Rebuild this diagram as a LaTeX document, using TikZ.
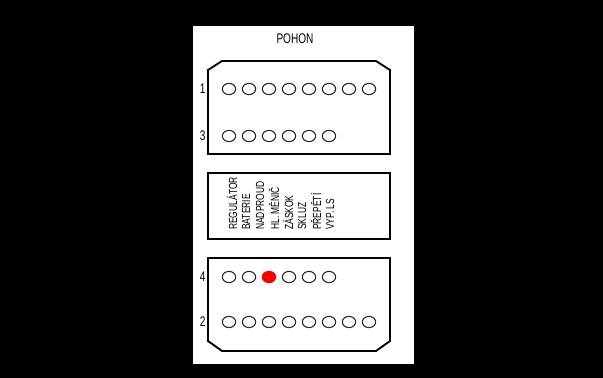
\documentclass[tikz,border=0pt]{standalone}
\usepackage{fontspec}
\setmainfont{Liberation Sans}
\newfontfamily\narrowfont[FakeStretch=0.72]{Liberation Sans}
\usetikzlibrary{shapes.geometric}

\begin{document}
\begin{tikzpicture}[
    x=0.75pt, y=-0.75pt,
    font=\narrowfont\fontsize{10.5}{12}\selectfont,
    led/.style={ellipse, draw=black!85, line width=0.8pt, minimum width=10pt, minimum height=8.4pt, inner sep=0pt},
    ledon/.style={led, fill=red, draw=red},
    frame/.style={draw=black, line width=1.4pt},
    rowlab/.style={anchor=east, inner sep=1pt},
    sig/.style={rotate=90, anchor=west, inner sep=0pt, font=\narrowfont\fontsize{8.8}{10}\selectfont},
  ]
  \def\dx{20}   % led pitch
  \def\xo{229}  % first led

  % --- background and panel ---
  \useasboundingbox (0,0) rectangle (603,378);
  \fill[black] (0,0) rectangle (603,378);
  \fill[white] (193,26) rectangle (414,364);
  \node (title) at (295,39) {POHON};

  % --- upper block: rows 1 and 3 ---
  \draw[frame] (208,70) -- (222,61) -- (376,61) -- (390,70) -- (390,154) -- (208,154) -- cycle;
  \node[rowlab] (lab1) at (207,89) {1};
  \foreach \i in {0,...,7} {
    \node[led] (a\i) at ({\xo+\i*\dx},89) {};
  }
  \node[rowlab] (lab3) at (207,136) {3};
  \foreach \i in {0,...,5} {
    \node[led] (c\i) at ({\xo+\i*\dx},136) {};
  }

  % --- legend ---
  \draw[frame] (208,173) rectangle (390,239);
  \foreach \t [count=\i from 0] in {REGULÁTOR, BATERIE, NADPROUD, HL. MĚNIČ, ZÁSKOK, SKLUZ, PŘEPĚTÍ, VYP. LS} {
    \node[sig] (s\i) at ({232+\i*14},230) {\t};
  }

  % --- lower block: rows 4 and 2 ---
  \draw[frame] (208,258) -- (390,258) -- (390,341) -- (376,351) -- (222,351) -- (208,341) -- cycle;
  \node[rowlab] (lab4) at (207,277) {4};
  \foreach \s [count=\i from 0] in {led,led,ledon,led,led,led} {
    \node[\s] (d\i) at ({\xo+\i*\dx},277) {};
  }
  \node[rowlab] (lab2) at (207,322) {2};
  \foreach \i in {0,...,7} {
    \node[led] (b\i) at ({\xo+\i*\dx},322) {};
  }
\end{tikzpicture}
\end{document}
